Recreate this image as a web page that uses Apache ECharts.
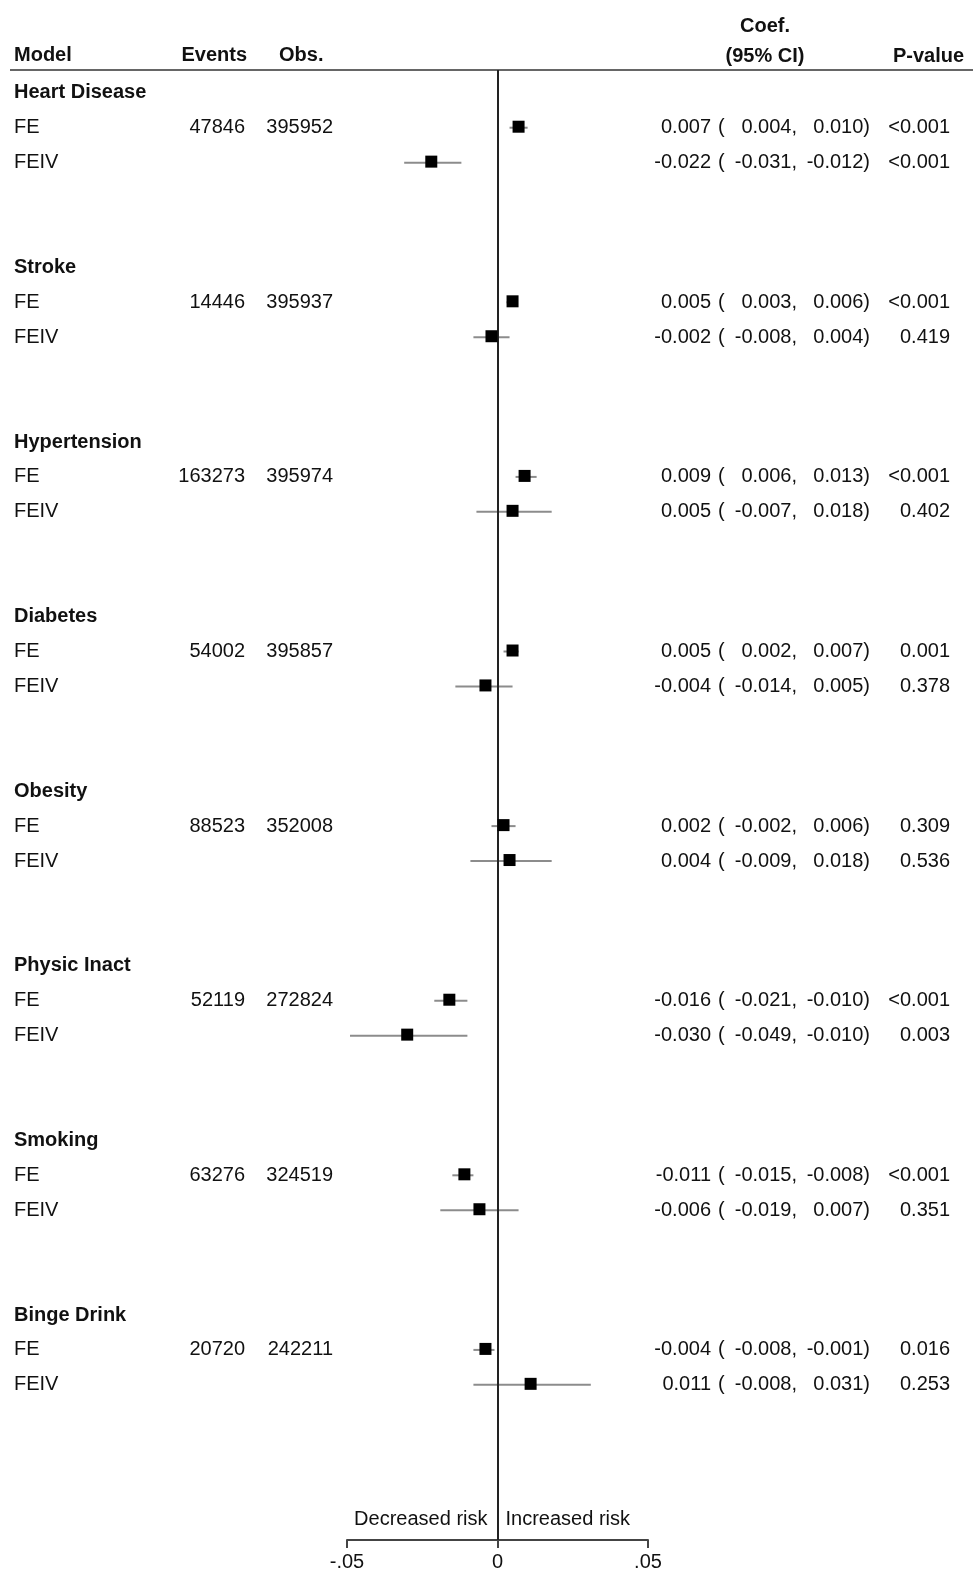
<!DOCTYPE html>
<html>
<head>
<meta charset="utf-8">
<script src="https://cdn.jsdelivr.net/npm/echarts@6/dist/echarts.min.js"></script>
<style>
html,body{margin:0;padding:0;background:#fff;}
#chart{width:973px;height:1573px;}
</style>
</head>
<body>
<div id="chart"></div>
<script>
// ---- data ----
var groups = ['Heart Disease','Stroke','Hypertension','Diabetes','Obesity','Physic Inact','Smoking','Binge Drink'];
var models = ['FE','FEIV'];
var events = [47846,14446,163273,54002,88523,52119,63276,20720];
var obs = [395952,395937,395974,395857,352008,272824,324519,242211];
var feCoef = [0.007,0.005,0.009,0.005,0.002,-0.016,-0.011,-0.004];
var feLow  = [0.004,0.003,0.006,0.002,-0.002,-0.021,-0.015,-0.008];
var feHigh = [0.010,0.006,0.013,0.007,0.006,-0.010,-0.008,-0.001];
var fePval = ['<0.001','<0.001','<0.001','0.001','0.309','<0.001','<0.001','0.016'];
var feivCoef = [-0.022,-0.002,0.005,-0.004,0.004,-0.030,-0.006,0.011];
var feivLow  = [-0.031,-0.008,-0.007,-0.014,-0.009,-0.049,-0.019,-0.008];
var feivHigh = [-0.012,0.004,0.018,0.005,0.018,-0.010,0.007,0.031];
var feivPval = ['<0.001','0.419','0.402','0.378','0.536','0.003','0.351','0.253'];
var xTicks = [-0.05, 0, 0.05];
var colHeaders = ['Model','Events','Obs.','Coef.','(95% CI)','P-value'];
var riskLabels = ['Decreased risk','Increased risk'];

// ---- build rows ----
var ROWS_PER_GROUP = 5;
var rows = [];
groups.forEach(function(g, i){
  var base = i * ROWS_PER_GROUP;
  rows.push({row: base, kind: 'label', text: g});
  rows.push({row: base+1, kind: 'model', model: models[0], events: events[i], obs: obs[i],
             coef: feCoef[i], low: feLow[i], high: feHigh[i], p: fePval[i]});
  rows.push({row: base+2, kind: 'model', model: models[1], events: null, obs: null,
             coef: feivCoef[i], low: feivLow[i], high: feivHigh[i], p: feivPval[i]});
});
var modelRows = rows.filter(function(r){ return r.kind === 'model'; });

var FONT = 'Liberation Sans, Arial, sans-serif';
var FS = 20;
var TXT = '#111';
function fmt(v){ return v.toFixed(3); }

var chart = echarts.init(document.getElementById('chart'), null, {renderer:'canvas'});

function txt(x, y, s, align, bold){
  return {type:'text', x:x, y:y, silent:true,
    style:{text:s, x:0, y:0, fill:TXT, font: (bold?'bold ':'') + FS + 'px ' + FONT,
           align:align, verticalAlign:'middle'}};
}

var option = {
  animation: false,
  backgroundColor: '#fff',
  grid: {left: 347, right: 325, top: 70, bottom: 33, containLabel: false},
  xAxis: {
    type: 'value', min: xTicks[0], max: xTicks[xTicks.length-1], interval: 0.05,
    axisLine: {show: true, onZero: false, lineStyle: {color: '#444', width: 2}},
    axisTick: {show: true, length: 8, lineStyle: {color: '#444', width: 2}},
    axisLabel: {show: true, margin: 12, color: TXT, fontSize: FS, fontFamily: FONT,
      formatter: function(v){ return v === 0 ? '0' : String(v).replace('0.', '.'); }},
    splitLine: {show: false}
  },
  yAxis: {
    type: 'value', inverse: true, min: -0.624, max: 41.472, show: false
  },
  series: [
    {
      type: 'custom', name: 'ci', z: 2,
      encode: {x: [0,1], y: 2},
      data: modelRows.map(function(r){ return [r.low, r.high, r.row]; }),
      renderItem: function(params, api){
        var p1 = api.coord([api.value(0), api.value(2)]);
        var p2 = api.coord([api.value(1), api.value(2)]);
        return {type:'line', shape:{x1:p1[0], y1:p1[1]+1, x2:p2[0], y2:p2[1]+1},
                style:{stroke:'#8c8c8c', lineWidth:2}};
      }
    },
    {
      type: 'scatter', name: 'coef', z: 4,
      symbol: 'rect', symbolSize: 12,
      itemStyle: {color: '#000', opacity: 1},
      data: modelRows.map(function(r){ return [r.coef, r.row]; }),
      markLine: {
        silent: true, symbol: 'none', z: 3,
        label: {show: false},
        lineStyle: {color: '#222', width: 2, type: 'solid', opacity: 1},
        data: [{xAxis: 0}]
      }
    },
    {
      type: 'custom', name: 'table', z: 5,
      encode: {x: 0, y: 1},
      data: rows.map(function(r){ return [0, r.row]; }),
      renderItem: function(params, api){
        var r = rows[params.dataIndex];
        var y = api.coord([0, r.row])[1] + 1;
        var ch = [];
        if (r.kind === 'label') {
          ch.push(txt(14, y, r.text, 'left', true));
        } else {
          ch.push(txt(14, y, r.model, 'left', false));
          if (r.events !== null) ch.push(txt(245, y, String(r.events), 'right', false));
          if (r.obs !== null) ch.push(txt(333, y, String(r.obs), 'right', false));
          ch.push(txt(711, y, fmt(r.coef), 'right', false));
          ch.push(txt(718, y, '(', 'left', false));
          ch.push(txt(797, y, fmt(r.low) + ',', 'right', false));
          ch.push(txt(870, y, fmt(r.high) + ')', 'right', false));
          ch.push(txt(950, y, r.p, 'right', false));
        }
        return {type:'group', children: ch};
      }
    }
  ]
};
chart.setOption(option);

var x0 = chart.convertToPixel({xAxisIndex: 0}, 0);
chart.setOption({
  graphic: [
    {type:'line', shape:{x1:10, y1:70, x2:973, y2:70}, style:{stroke:'#666', lineWidth:2}, silent:true},
    txt(14, 55, colHeaders[0], 'left', true),
    txt(247, 55, colHeaders[1], 'right', true),
    txt(279, 55, colHeaders[2], 'left', true),
    txt(765, 26, colHeaders[3], 'center', true),
    txt(765, 56, colHeaders[4], 'center', true),
    txt(893, 56, colHeaders[5], 'left', true),
    txt(x0 - 10, 1519, riskLabels[0], 'right', false),
    txt(x0 + 8, 1519, riskLabels[1], 'left', false)
  ]
});
</script>
</body>
</html>
